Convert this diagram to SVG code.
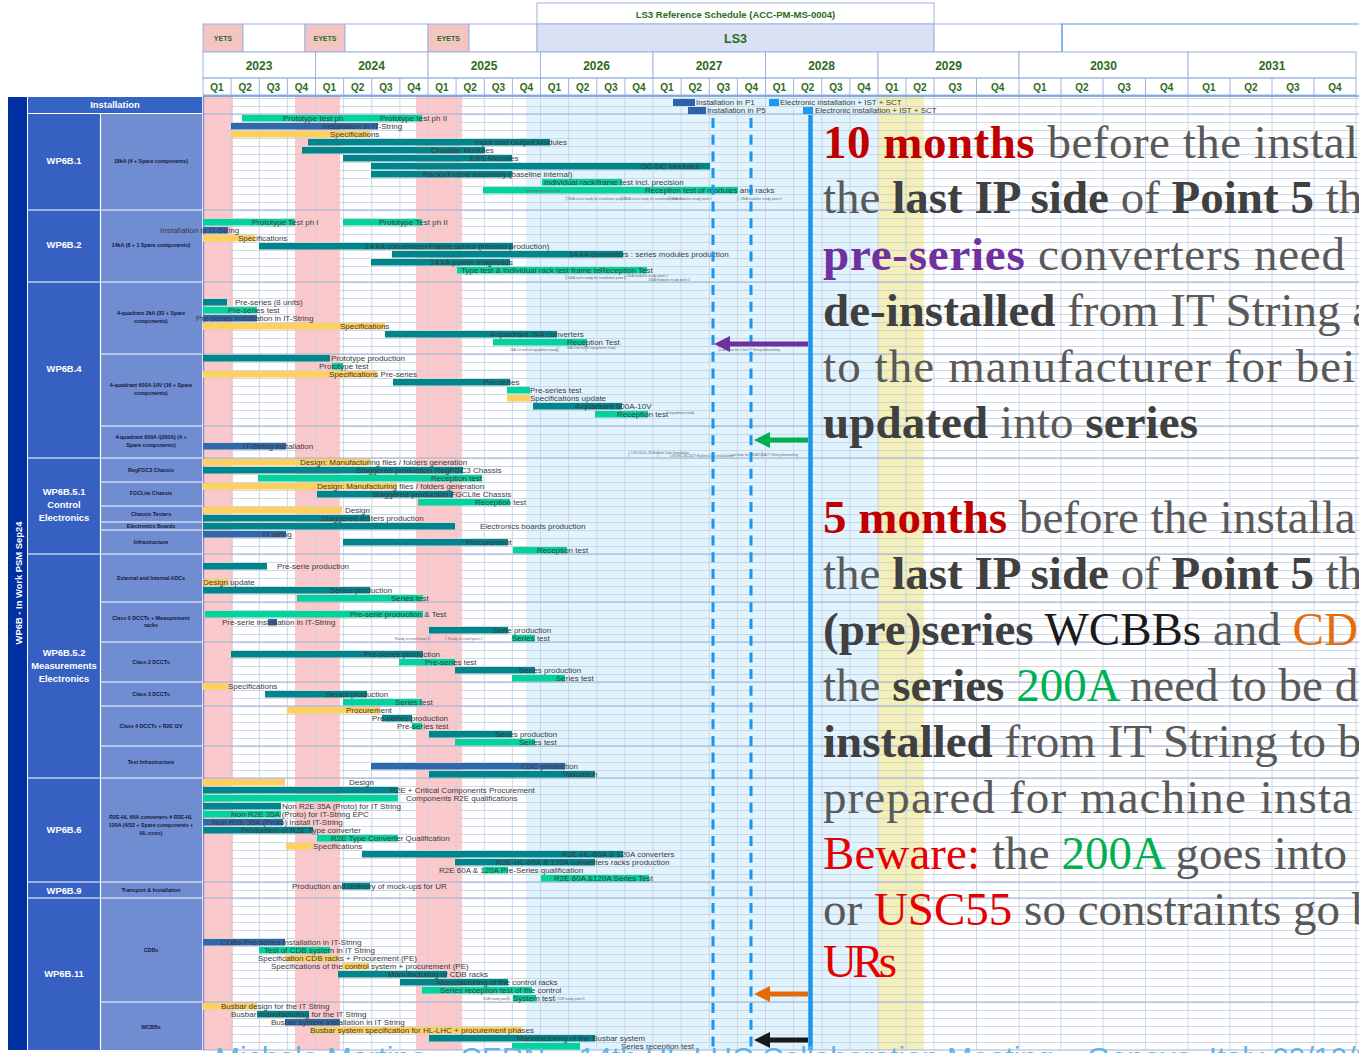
<svg xmlns="http://www.w3.org/2000/svg" width="1359" height="1053" viewBox="0 0 1359 1053">
<defs>
<style>
.hd{fill:#ffffff;stroke:#9db4e2;stroke-width:1}
.ht{font-family:"Liberation Sans",Arial,sans-serif;font-weight:bold;fill:#2c6b1c;text-anchor:middle}
.t{fill:#00858a}
.g{fill:#00d39b}
.b{fill:#2f69a8}
.y{fill:#ffd05c}
.lb{font-family:"Liberation Sans",Arial,sans-serif;font-size:8px;fill:#3b3b3b}
.tiny{font-family:"Liberation Sans",Arial,sans-serif;font-size:3.4px;fill:#6a6a6a}
.tick{stroke:#9a9a9a;stroke-width:0.6}
.wp{font-family:"Liberation Sans",Arial,sans-serif;font-weight:bold;font-size:9.4px;fill:#ffffff;text-anchor:middle}
.sub{font-family:"Liberation Sans",Arial,sans-serif;font-weight:bold;font-size:5.3px;fill:#15183a;text-anchor:middle}
.wpc{fill:#3661c2}
.sbc{fill:#6f8dd0}
.sep{stroke:#ffffff;stroke-width:1.2}
.sec{stroke:#9cb2da;stroke-width:1}
.note{font-family:"Liberation Serif","Times New Roman",serif;font-size:47px;fill:#595959}
.bd{font-weight:bold;fill:#404040}
.red{fill:#c00000}
.bred{fill:#e60000}
.pur{fill:#7030a0}
.grn{fill:#00b050}
.org{fill:#e46c0a}
.blk{fill:#1a1a1a}
.arr{stroke-width:5;fill:none}
.dash{stroke:#1a96ee;stroke-width:3;stroke-dasharray:10 6.7;fill:none}
</style>
<pattern id="rowlines" x="0" y="98" width="16" height="8" patternUnits="userSpaceOnUse">
<rect x="0" y="0" width="16" height="0.9" fill="#c8d4e6"/>
</pattern>
<marker id="hPur" viewBox="0 0 10 10" refX="0" refY="5" markerWidth="3.4" markerHeight="3.2" orient="auto"><path d="M0,0 L10,5 L0,10 z" fill="#7030a0"/></marker>
<marker id="hGrn" viewBox="0 0 10 10" refX="0" refY="5" markerWidth="3.4" markerHeight="3.2" orient="auto"><path d="M0,0 L10,5 L0,10 z" fill="#00b050"/></marker>
<marker id="hOrg" viewBox="0 0 10 10" refX="0" refY="5" markerWidth="3.4" markerHeight="3.2" orient="auto"><path d="M0,0 L10,5 L0,10 z" fill="#e36c09"/></marker>
<marker id="hBlk" viewBox="0 0 10 10" refX="0" refY="5" markerWidth="3.4" markerHeight="3.2" orient="auto"><path d="M0,0 L10,5 L0,10 z" fill="#1a1a1a"/></marker>
</defs>

<rect width="1359" height="1053" fill="#ffffff"/>

<!-- timeline header -->
<g id="header">
<rect class="hd" x="537" y="3" width="397" height="21"/>
<text class="ht" x="735.5" y="17.5" font-size="9.5">LS3 Reference Schedule (ACC-PM-MS-0004)</text>
<rect x="203" y="24" width="40" height="28" fill="#f3c5c2" stroke="#9db4e2"/>
<rect class="hd" x="243" y="24" width="62" height="28"/>
<rect x="305" y="24" width="40" height="28" fill="#f3c5c2" stroke="#9db4e2"/>
<rect class="hd" x="345" y="24" width="83" height="28"/>
<rect x="428" y="24" width="41" height="28" fill="#f3c5c2" stroke="#9db4e2"/>
<rect class="hd" x="469" y="24" width="68" height="28"/>
<rect x="537" y="24" width="397" height="28" fill="#dae1f4" stroke="#9db4e2"/>
<rect class="hd" x="934" y="24" width="128" height="28"/>
<path d="M1062 52 V24 H1359" fill="none" stroke="#5b9ce0" stroke-width="1.2"/>
<text class="ht" x="223" y="41" font-size="7">YETS</text>
<text class="ht" x="325" y="41" font-size="7">EYETS</text>
<text class="ht" x="448.5" y="41" font-size="7">EYETS</text>
<text class="ht" x="735.5" y="43" font-size="12.5">LS3</text>
<!-- years -->
<rect class="hd" x="203" y="52" width="112.5" height="26"/>
<rect class="hd" x="315.5" y="52" width="112.5" height="26"/>
<rect class="hd" x="428" y="52" width="112.5" height="26"/>
<rect class="hd" x="540.5" y="52" width="112.5" height="26"/>
<rect class="hd" x="653" y="52" width="112.5" height="26"/>
<rect class="hd" x="765.5" y="52" width="112.5" height="26"/>
<rect class="hd" x="878" y="52" width="141" height="26"/>
<rect class="hd" x="1019" y="52" width="169" height="26"/>
<rect class="hd" x="1188" y="52" width="168" height="26"/>
<text class="ht" font-size="12" y="70"><tspan x="259">2023</tspan><tspan x="371.5">2024</tspan><tspan x="484">2025</tspan><tspan x="596.5">2026</tspan><tspan x="709">2027</tspan><tspan x="821.5">2028</tspan><tspan x="948.5">2029</tspan><tspan x="1103.5">2030</tspan><tspan x="1272">2031</tspan></text>
<!-- quarters -->
<path fill="none" stroke="#9db4e2" d="M203 78 H1356 M203 95 H1356 M203 78 V95 M231.1 78 V95 M259.3 78 V95 M287.4 78 V95 M315.5 78 V95 M343.6 78 V95 M371.8 78 V95 M399.9 78 V95 M428 78 V95 M456.1 78 V95 M484.3 78 V95 M512.4 78 V95 M540.5 78 V95 M568.6 78 V95 M596.8 78 V95 M624.9 78 V95 M653 78 V95 M681.1 78 V95 M709.3 78 V95 M737.4 78 V95 M765.5 78 V95 M793.6 78 V95 M821.8 78 V95 M849.9 78 V95 M878 78 V95 M906 78 V95 M934 78 V95 M976.5 78 V95 M1019 78 V95 M1061 78 V95 M1103 78 V95 M1145.5 78 V95 M1188 78 V95 M1230 78 V95 M1272 78 V95 M1314 78 V95 M1356 78 V95"/>
<text class="ht" font-size="10" y="91"><tspan x="217">Q1</tspan><tspan x="245.2">Q2</tspan><tspan x="273.3">Q3</tspan><tspan x="301.4">Q4</tspan><tspan x="329.5">Q1</tspan><tspan x="357.7">Q2</tspan><tspan x="385.8">Q3</tspan><tspan x="414">Q4</tspan><tspan x="442">Q1</tspan><tspan x="470.2">Q2</tspan><tspan x="498.3">Q3</tspan><tspan x="526.4">Q4</tspan><tspan x="554.5">Q1</tspan><tspan x="582.7">Q2</tspan><tspan x="610.8">Q3</tspan><tspan x="639">Q4</tspan><tspan x="667">Q1</tspan><tspan x="695.2">Q2</tspan><tspan x="723.3">Q3</tspan><tspan x="751.4">Q4</tspan><tspan x="779.5">Q1</tspan><tspan x="807.7">Q2</tspan><tspan x="835.8">Q3</tspan><tspan x="864">Q4</tspan><tspan x="892">Q1</tspan><tspan x="920">Q2</tspan><tspan x="955.2">Q3</tspan><tspan x="997.7">Q4</tspan><tspan x="1040">Q1</tspan><tspan x="1082">Q2</tspan><tspan x="1124.2">Q3</tspan><tspan x="1166.7">Q4</tspan><tspan x="1209">Q1</tspan><tspan x="1251">Q2</tspan><tspan x="1293">Q3</tspan><tspan x="1335">Q4</tspan></text>
</g>

<!-- chart background: shutdown periods, LS3 band, grid -->
<g id="chart-grid">
<rect x="203" y="96" width="1156" height="954" fill="#ffffff"/>
<rect x="203" y="96" width="30" height="954" fill="#ffc7c7"/>
<rect x="295" y="96" width="45" height="954" fill="#ffc7c7"/>
<rect x="416" y="96" width="46" height="954" fill="#ffc7c7"/>
<rect x="526" y="96" width="352" height="954" fill="#e1f3fc"/>
<rect x="878" y="96" width="46" height="954" fill="#f3efb6"/>
<rect x="203" y="96" width="1156" height="954" fill="url(#rowlines)"/>
<path fill="none" stroke="#c6d3e6" stroke-width="0.9" d="M231.1 96 V1050 M259.3 96 V1050 M287.4 96 V1050 M315.5 96 V1050 M343.6 96 V1050 M371.8 96 V1050 M399.9 96 V1050 M428 96 V1050 M456.1 96 V1050 M484.3 96 V1050 M512.4 96 V1050 M540.5 96 V1050 M568.6 96 V1050 M596.8 96 V1050 M624.9 96 V1050 M653 96 V1050 M681.1 96 V1050 M709.3 96 V1050 M737.4 96 V1050 M765.5 96 V1050 M793.6 96 V1050 M821.8 96 V1050 M849.9 96 V1050 M878 96 V1050 M906 96 V1050 M934 96 V1050 M976.5 96 V1050 M1019 96 V1050 M1061 96 V1050 M1103 96 V1050 M1145.5 96 V1050 M1188 96 V1050 M1230 96 V1050 M1272 96 V1050 M1314 96 V1050 M1356 96 V1050"/>
<path class="sec" d="M203 114 H1359 M203 210 H1359 M203 282 H1359 M203 354 H1359 M203 426 H1359 M203 458 H1359 M203 554 H1359 M203 602 H1359 M203 642 H1359 M203 682 H1359 M203 706 H1359 M203 746 H1359 M203 778 H1359 M203 882 H1359 M203 898 H1359 M203 1002 H1359 M203 1050 H1359"/>
<path d="M203 96 H1359" stroke="#6f93d8" stroke-width="1.5"/>
<path d="M203.5 96 V1050" stroke="#8a8ad8" stroke-width="1.5"/>
</g>

<!-- work package labels -->
<g id="wp-panel">
<rect x="8" y="97" width="19" height="953" fill="#0030a2"/>
<text class="wp" font-size="12" transform="rotate(-90 18 583)" x="18" y="587">WP6B - In Work PSM Sep24</text>
<rect x="28" y="97" width="174" height="16" fill="#3664c4"/>
<text class="wp" x="115" y="108" font-size="8.6">Installation</text>
<g id="wp6b1"><rect class="wpc" x="28" y="114" width="72" height="96"/><rect class="sbc" x="101" y="114" width="101" height="96"/><text class="wp" x="64" y="164">WP6B.1</text><text class="sub" x="151" y="163">18kA (4 + Spare components)</text></g>
<g id="wp6b2"><rect class="wpc" x="28" y="210" width="72" height="72"/><rect class="sbc" x="101" y="210" width="101" height="72"/><text class="wp" x="64" y="248">WP6B.2</text><text class="sub" x="151" y="247">14kA (8 + 1 Spare components)</text></g>
<g id="wp6b4"><rect class="wpc" x="28" y="282" width="72" height="176"/><rect class="sbc" x="101" y="282" width="101" height="176"/><text class="wp" x="64" y="372">WP6B.4</text>
<text class="sub" x="151" y="315">4-quadrant 2kA (32 + Spare</text><text class="sub" x="151" y="323">components)</text>
<text class="sub" x="151" y="387">4-quadrant 600A-10V (16 + Spare</text><text class="sub" x="151" y="395">components)</text>
<text class="sub" x="151" y="439">4-quadrant 600A /(200A) (4 +</text><text class="sub" x="151" y="447">Spare components)</text></g>
<g id="wp6b51"><rect class="wpc" x="28" y="458" width="72" height="96"/><rect class="sbc" x="101" y="458" width="101" height="96"/>
<text class="wp" x="64" y="495">WP6B.5.1</text><text class="wp" x="64" y="508">Control</text><text class="wp" x="64" y="521">Electronics</text>
<text class="sub" x="151" y="472">RegFGC3 Chassis</text><text class="sub" x="151" y="495">FGCLite Chassis</text><text class="sub" x="151" y="516">Chassis Testers</text><text class="sub" x="151" y="528">Electronics Boards</text><text class="sub" x="151" y="544">Infrastructure</text></g>
<g id="wp6b52"><rect class="wpc" x="28" y="554" width="72" height="224"/><rect class="sbc" x="101" y="554" width="101" height="224"/>
<text class="wp" x="64" y="656">WP6B.5.2</text><text class="wp" x="64" y="669">Measurements</text><text class="wp" x="64" y="682">Electronics</text>
<text class="sub" x="151" y="580">External and Internal ADCs</text>
<text class="sub" x="151" y="620">Class 0 DCCTs + Measurement</text><text class="sub" x="151" y="627">racks</text>
<text class="sub" x="151" y="664">Class 2 DCCTs</text><text class="sub" x="151" y="696">Class 3 DCCTs</text><text class="sub" x="151" y="728">Class 4 DCCTs + R2E I2V</text><text class="sub" x="151" y="764">Test Infrastructure</text></g>
<g id="wp6b6"><rect class="wpc" x="28" y="778" width="72" height="104"/><rect class="sbc" x="101" y="778" width="101" height="104"/><text class="wp" x="64" y="833">WP6B.6</text>
<text class="sub" x="151" y="819">R2E-HL 60A converters # R2E-HL</text><text class="sub" x="151" y="827">120A (4/32 + Spare components +</text><text class="sub" x="151" y="835">HL-cons)</text></g>
<g id="wp6b9"><rect class="wpc" x="28" y="882" width="72" height="16"/><rect class="sbc" x="101" y="882" width="101" height="16"/><text class="wp" x="64" y="893.5">WP6B.9</text><text class="sub" x="151" y="892">Transport &amp; Installation</text></g>
<g id="wp6b11"><rect class="wpc" x="28" y="898" width="72" height="152"/><rect class="sbc" x="101" y="898" width="101" height="152"/><text class="wp" x="64" y="977">WP6B.11</text><text class="sub" x="151" y="952">CDBs</text><text class="sub" x="151" y="1029">WCBBs</text></g>
<path class="sep" d="M28 113.5 H202 M28 210 H202 M28 282 H202 M101 354 H202 M101 426 H202 M28 458 H202 M101 482 H202 M101 506 H202 M101 522 H202 M101 530 H202 M28 554 H202 M101 602 H202 M101 642 H202 M101 682 H202 M101 706 H202 M101 746 H202 M28 778 H202 M28 882 H202 M28 898 H202 M101 1002 H202 M100.5 114 V1050"/>
</g>

<!-- installation milestones -->
<g id="installation">
<rect x="673" y="99" width="22" height="7" fill="#2e63a8"/><text class="lb" x="696" y="105" font-size="7">Installation in P1</text>
<rect x="688" y="107" width="18" height="7" fill="#2e63a8"/><text class="lb" x="707" y="113" font-size="7">Installation in P5</text>
<rect x="769" y="99" width="10" height="7" fill="#1a9af0"/><text class="lb" x="780" y="105" font-size="6.8">Electronic installation + IST + SCT</text>
<rect x="803" y="107" width="10" height="7" fill="#1a9af0"/><text class="lb" x="815" y="113" font-size="6.8">Electronic installation + IST + SCT</text>
</g>

<g id="wp6b1-tasks">
<rect class="g" x="242" y="115" width="101" height="6.5"/><rect class="g" x="343" y="115" width="79" height="6.5"/>
<text class="lb" x="283" y="120.8">Prototype test ph</text><text class="lb" x="380" y="120.8">Prototype test ph II</text>
<rect class="b" x="231" y="123" width="147" height="6.5"/><text class="lb" x="323" y="128.8">Installation in IT-String</text>
<rect class="y" x="231" y="131" width="139" height="6.5"/><text class="lb" x="330" y="136.8">Specifications</text>
<rect class="t" x="308" y="139" width="242" height="6.5"/><text class="lb" x="475" y="144.8">Input and Output Modules</text>
<rect class="t" x="302" y="147" width="183" height="6.5"/><text class="lb" x="431" y="152.8">Crowbar Modules</text>
<rect class="t" x="343" y="155" width="169" height="6.5"/><text class="lb" x="470" y="160.8">ESS Modules</text>
<rect class="t" x="371" y="163" width="339" height="6.5"/><text class="lb" x="641" y="168.8">DC-DC Modules</text>
<rect class="t" x="371" y="171" width="141" height="6.5"/><text class="lb" x="423" y="176.8">Racks/Frame assembly (baseline internal)</text>
<rect class="g" x="542" y="179" width="80" height="6.5"/><text class="lb" x="544" y="184.8">Individual rack/frame test incl. precision</text>
<rect class="g" x="483" y="187" width="255" height="6.5"/><text class="lb" x="645" y="192.8">Reception test of modules and racks</text>
<text class="tiny" x="525" y="191.5">Type test incl. precision</text>
<path class="tick" d="M566 196 V201 M622 196 V201 M669 196 V201 M738 196 V201"/>
<text class="tiny" x="567" y="200">18kA racks ready for installation point 1</text>
<text class="tiny" x="623" y="200">18kA racks ready for installation point 5</text>
<text class="tiny" x="670" y="200">18kA modules ready point 1</text>
<text class="tiny" x="740" y="200">18kA modules ready point 5</text>
</g>

<g id="wp6b2-tasks">
<rect class="g" x="203" y="219" width="92" height="6.5"/><rect class="g" x="343" y="219" width="79" height="6.5"/>
<text class="lb" x="252" y="224.8">Prototype Test ph I</text><text class="lb" x="379" y="224.8">Prototype Test ph II</text>
<rect class="b" x="203" y="227" width="25" height="6.5"/><text class="lb" x="160" y="232.8">Installation in IT-String</text>
<rect class="y" x="203" y="235" width="52" height="6.5"/><text class="lb" x="238" y="240.8">Specifications</text>
<rect class="t" x="259" y="243" width="254" height="6.5"/><text class="lb" x="365" y="248.8">14 kA converters+Frame series (internal production)</text>
<rect class="t" x="392" y="251" width="231" height="6.5"/><text class="lb" x="569" y="256.8">14 kA converters : series modules production</text>
<rect class="t" x="371" y="259" width="139" height="6.5"/><text class="lb" x="430" y="264.8">14 kA power magnetics</text>
<rect class="g" x="457" y="267" width="190" height="6.5"/><text class="lb" x="461" y="272.8">Type test &amp; individual rack test frame te</text><text class="lb" x="600" y="272.8">Reception Test</text>
<path class="tick" d="M566 274 V280 M625 274 V280"/>
<text class="tiny" x="567" y="278.5">14kA racks ready for installation point 1</text>
<text class="tiny" x="626" y="276.5">14kA modules ready point 1</text>
<text class="tiny" x="648" y="281">14kA modules ready point 5</text>
</g>

<g id="wp6b4-tasks">
<rect class="t" x="203" y="299" width="24" height="6.5"/><text class="lb" x="235" y="304.8">Pre-series (8 units)</text>
<rect class="g" x="203" y="307" width="54" height="6.5"/><text class="lb" x="228" y="312.8">Pre-series test</text>
<rect class="b" x="203" y="315" width="54" height="6.5"/><text class="lb" x="196" y="320.8">Pre-series installation in IT-String</text>
<rect class="y" x="203" y="323" width="182" height="6.5"/><text class="lb" x="340" y="328.8">Specifications</text>
<rect class="t" x="385" y="331" width="172" height="6.5"/><text class="lb" x="490" y="336.8">4-quadrant 2kA converters</text>
<rect class="g" x="493" y="339" width="94" height="6.5"/><text class="lb" x="567" y="344.8">Reception Test</text>
<path class="tick" d="M558 346 V352 M586 346 V352 M719 346 V352"/>
<text class="tiny" x="510" y="351">2kA 1st half of equipment ready</text>
<text class="tiny" x="567" y="349">2kA 2nd half of equipment ready</text>
<text class="tiny" x="720" y="351">Last date for 2 last IT String dismantling</text>
<rect class="t" x="203" y="355" width="127" height="6.5"/><text class="lb" x="331" y="360.8">Prototype production</text>
<rect class="g" x="332" y="363" width="11" height="6.5"/><text class="lb" x="319" y="368.8">Prototype test</text>
<rect class="y" x="203" y="371" width="174" height="6.5"/><text class="lb" x="329" y="376.8">Specifications Pre-series</text>
<rect class="t" x="393" y="379" width="117" height="6.5"/><text class="lb" x="483" y="384.8">Pre-series</text>
<rect class="g" x="507" y="387" width="23" height="6.5"/><text class="lb" x="530" y="392.8">Pre-series test</text>
<rect class="y" x="507" y="395" width="23" height="6.5"/><text class="lb" x="530" y="400.8">Specifications update</text>
<rect class="t" x="533" y="403" width="89" height="6.5"/><text class="lb" x="575" y="408.8">4-quadrant 600A-10V</text>
<rect class="g" x="595" y="411" width="53" height="6.5"/><text class="lb" x="617" y="416.8">Reception test</text>
<path class="tick" d="M667 410 V416"/>
<text class="tiny" x="669" y="414">equipment ready</text>
<rect class="b" x="203" y="443" width="83" height="6.5"/><text class="lb" x="243" y="448.8">IT-String installation</text>
<path class="tick" d="M629 451 V457 M658 451 V457 M762 451 V457"/>
<text class="tiny" x="631" y="453.5">LS3-04-0L-28 Earliest Date Installation</text>
<text class="tiny" x="670" y="457">LS3-ED-1B-2027 Earliest Date Installation</text>
<text class="tiny" x="730" y="456">Last date for 200A/120A IT String dismantling</text>
</g>

<g id="wp6b51-tasks">
<rect class="y" x="203" y="459" width="167" height="6.5"/><text class="lb" x="300" y="464.8">Design: Manufacturing files / folders generation</text>
<rect class="t" x="203" y="467" width="260" height="6.5"/><text class="lb" x="356" y="472.8">Staggered production RegFGC3 Chassis</text>
<rect class="g" x="258" y="475" width="224" height="6.5"/><text class="lb" x="431" y="480.8">Reception test</text>
<rect class="y" x="203" y="483" width="194" height="6.5"/><text class="lb" x="317" y="488.8">Design: Manufacturing files / folders generation</text>
<rect class="t" x="317" y="491" width="136" height="6.5"/><text class="lb" x="372" y="496.8">Staggered production FGCLite Chassis</text>
<rect class="g" x="418" y="499" width="92" height="6.5"/><text class="lb" x="475" y="504.8">Reception test</text>
<rect class="y" x="203" y="507" width="139" height="6.5"/><text class="lb" x="345" y="512.8">Design</text>
<rect class="t" x="203" y="515" width="167" height="6.5"/><text class="lb" x="321" y="520.8">Staggered testers production</text>
<rect class="t" x="203" y="523" width="252" height="6.5"/><text class="lb" x="480" y="528.8">Electronics boards production</text>
<rect class="b" x="203" y="531" width="83" height="6.5"/><text class="lb" x="263" y="536.8">IT string</text>
<rect class="t" x="343" y="539" width="165" height="6.5"/><text class="lb" x="466" y="544.8">Procurement</text>
<rect class="g" x="513" y="547" width="54" height="6.5"/><text class="lb" x="537" y="552.8">Reception test</text>
</g>

<g id="wp6b52-tasks">
<rect class="t" x="203" y="563" width="64" height="6.5"/><text class="lb" x="277" y="568.8">Pre-serie production</text>
<rect class="y" x="203" y="579" width="25" height="6.5"/><text class="lb" x="203" y="584.8">Design update</text>
<rect class="t" x="203" y="587" width="167" height="6.5"/><text class="lb" x="330" y="592.8">Series production</text>
<rect class="g" x="297" y="595" width="126" height="6.5"/><text class="lb" x="391" y="600.8">Series test</text>
<rect class="g" x="205" y="611" width="218" height="6.5"/><text class="lb" x="350" y="616.8">Pre-serie production &amp; Test</text>
<rect class="b" x="268" y="619" width="9" height="6.5"/><text class="lb" x="222" y="624.8">Pre-serie installation in IT-String</text>
<rect class="t" x="429" y="627" width="79" height="6.5"/><text class="lb" x="493" y="632.8">Serie production</text>
<rect class="g" x="512" y="635" width="23" height="6.5"/><text class="lb" x="512" y="640.8">Series test</text>
<path class="tick" d="M430 635 V641 M446 635 V641"/>
<text class="tiny" x="395" y="639.5">Ready to install point 1</text>
<text class="tiny" x="448" y="639.5">Ready to install point 5</text>
<rect class="t" x="231" y="651" width="192" height="6.5"/><text class="lb" x="364" y="656.8">Pre-series production</text>
<rect class="g" x="399" y="659" width="56" height="6.5"/><text class="lb" x="425" y="664.8">Pre-series test</text>
<rect class="t" x="455" y="667" width="80" height="6.5"/><text class="lb" x="519" y="672.8">Series production</text>
<rect class="g" x="512" y="675" width="53" height="6.5"/><text class="lb" x="556" y="680.8">Series test</text>
<rect class="y" x="203" y="683" width="25" height="6.5"/><text class="lb" x="228" y="688.8">Specifications</text>
<rect class="t" x="265" y="691" width="102" height="6.5"/><text class="lb" x="326" y="696.8">Series production</text>
<rect class="g" x="343" y="699" width="79" height="6.5"/><text class="lb" x="395" y="704.8">Series test</text>
<rect class="y" x="287" y="707" width="93" height="6.5"/><text class="lb" x="346" y="712.8">Procurement</text>
<rect class="t" x="382" y="715" width="30" height="6.5"/><text class="lb" x="372" y="720.8">Pre-series production</text>
<rect class="g" x="412" y="723" width="10" height="6.5"/><text class="lb" x="397" y="728.8">Pre-series test</text>
<rect class="t" x="429" y="731" width="83" height="6.5"/><text class="lb" x="495" y="736.8">Series production</text>
<rect class="g" x="455" y="739" width="80" height="6.5"/><text class="lb" x="519" y="744.8">Series test</text>
<rect class="b" x="371" y="763" width="194" height="6.5"/><text class="lb" x="521" y="768.8">CDC production</text>
<rect class="t" x="429" y="771" width="166" height="6.5"/><text class="lb" x="563" y="776.8">Validation</text>
</g>

<g id="wp6b6-tasks">
<rect class="y" x="203" y="779" width="82" height="6.5"/><text class="lb" x="349" y="784.8">Design</text>
<rect class="t" x="203" y="787" width="195" height="6.5"/><text class="lb" x="390" y="792.8">R2E + Critical Components Procurement</text>
<rect class="g" x="203" y="795" width="195" height="6.5"/><text class="lb" x="406" y="800.8">Components R2E qualifications</text>
<rect class="t" x="203" y="803" width="78" height="6.5"/><text class="lb" x="282" y="808.8">Non R2E 35A (Proto) for IT String</text>
<rect class="g" x="203" y="811" width="78" height="6.5"/><text class="lb" x="231" y="816.8">Non R2E 35A (Proto) for IT-String  EPC</text>
<rect class="b" x="203" y="819" width="80" height="6.5"/><text class="lb" x="212" y="824.8">Non R2E 35A (Proto) Install IT-String</text>
<rect class="t" x="203" y="827" width="110" height="6.5"/><text class="lb" x="241" y="832.8">Production of R2E Type converter</text>
<rect class="g" x="317" y="835" width="81" height="6.5"/><text class="lb" x="331" y="840.8">R2E Type Converter Qualification</text>
<rect class="y" x="286" y="843" width="27" height="6.5"/><text class="lb" x="313" y="848.8">Specifications</text>
<rect class="t" x="362" y="851" width="261" height="6.5"/><text class="lb" x="562" y="856.8">R2E-HL-60A &amp; 120A converters</text>
<rect class="t" x="455" y="859" width="140" height="6.5"/><text class="lb" x="496" y="864.8">R2E-HL-60A &amp; 120A converters racks production</text>
<rect class="g" x="483" y="867" width="25" height="6.5"/><text class="lb" x="439" y="872.8">R2E 60A &amp; 120A Pre-Series qualification</text>
<rect class="g" x="541" y="875" width="108" height="6.5"/><text class="lb" x="554" y="880.8">R2E 60A &amp;120A Series Test</text>
</g>

<g id="wp6b9-tasks">
<rect class="t" x="342" y="883" width="28" height="6.5"/><text class="lb" x="292" y="888.8">Production and delivery of mock-ups for UR</text>
</g>

<g id="wp6b11-tasks">
<rect class="b" x="203" y="939" width="82" height="6.5"/><text class="lb" x="221" y="944.8">CDBs Pre-series installation in IT-String</text>
<rect class="g" x="259" y="947" width="71" height="6.5"/><text class="lb" x="264" y="952.8">Test of CDB system in IT String</text>
<rect class="y" x="285" y="955" width="53" height="6.5"/><text class="lb" x="258" y="960.8">Specification CDB racks + Procurement (PE)</text>
<rect class="y" x="342" y="963" width="27" height="6.5"/><text class="lb" x="271" y="968.8">Specifications of the control system + procurement (PE)</text>
<rect class="t" x="338" y="971" width="109" height="6.5"/><text class="lb" x="388" y="976.8">Manufacturing of CDB racks</text>
<rect class="t" x="400" y="979" width="108" height="6.5"/><text class="lb" x="437" y="984.8">Manufacturing of the control racks</text>
<rect class="g" x="422" y="987" width="110" height="6.5"/><text class="lb" x="440" y="992.8">Series reception test of the control</text>
<rect class="g" x="513" y="995" width="23" height="6.5"/><text class="lb" x="513" y="1000.8">System test</text>
<path class="tick" d="M508 995 V1001 M555 995 V1001"/>
<text class="tiny" x="483" y="999.5">CDB ready point 1</text>
<text class="tiny" x="557" y="999.5">CDB ready point 5</text>
<rect class="y" x="203" y="1003" width="54" height="6.5"/><text class="lb" x="221" y="1008.8">Busbar design for the IT String</text>
<rect class="t" x="257" y="1011" width="52" height="6.5"/><text class="lb" x="231" y="1016.8">Busbar manufacturing for the IT String</text>
<rect class="b" x="285" y="1019" width="55" height="6.5"/><text class="lb" x="271" y="1024.8">Busbar system installation in IT String</text>
<rect class="y" x="311" y="1027" width="211" height="6.5"/><text class="lb" x="310" y="1032.8">Busbar system specification for HL-LHC + procurement phases</text>
<rect class="t" x="429" y="1035" width="166" height="6.5"/><text class="lb" x="517" y="1040.8">Manufacturing of the Busbar system</text>
<rect class="g" x="512" y="1043" width="68" height="6.5"/><text class="lb" x="621" y="1048.8">Series reception test</text>
</g>

<!-- installation deadlines and arrows -->
<g id="connectors">
<path class="dash" d="M713 118 V1050"/>
<path class="dash" d="M751 118 V1050"/>
<path d="M810.5 115 V1050" stroke="#1a96ee" stroke-width="4.5"/>
<path class="arr" stroke="#7030a0" d="M808 344 H730" marker-end="url(#hPur)"/>
<path class="arr" stroke="#00b050" d="M808 440 H770" marker-end="url(#hGrn)"/>
<path class="arr" stroke="#e36c09" d="M808 994 H770" marker-end="url(#hOrg)"/>
<path class="arr" stroke="#1a1a1a" d="M808 1040 H770" marker-end="url(#hBlk)"/>
</g>

<!-- notes -->
<g id="notes" class="note">
<text x="823" y="158" letter-spacing="0.5"><tspan class="bd red">10 months</tspan> before the instal</text>
<text x="823" y="213">the <tspan class="bd">last IP side</tspan> of <tspan class="bd">Point 5</tspan> th</text>
<text x="823" y="270" textLength="522"><tspan class="bd pur">pre-series</tspan> converters need</text>
<text x="823" y="326"><tspan class="bd">de-installed</tspan> from IT String a</text>
<text x="823" y="382" letter-spacing="1.1">to the manufacturer for bei</text>
<text x="823" y="438" textLength="375"><tspan class="bd">updated</tspan> into <tspan class="bd">series</tspan></text>
<text x="823" y="533"><tspan class="bd red">5 months</tspan> before the installa</text>
<text x="823" y="589">the <tspan class="bd">last IP side</tspan> of <tspan class="bd">Point 5</tspan> the</text>
<text x="823" y="645"><tspan class="bd">(pre)series</tspan> <tspan class="blk">WCBBs</tspan> and <tspan class="org">CDB</tspan></text>
<text x="823" y="701">the <tspan class="bd">series</tspan> <tspan class="grn">200A</tspan> need to be d</text>
<text x="823" y="757"><tspan class="bd">installed</tspan> from IT String to b</text>
<text x="823" y="813" letter-spacing="1.1">prepared for machine insta</text>
<text x="823" y="869" textLength="524"><tspan class="bred">Beware:</tspan> the <tspan class="grn">200A</tspan> goes into</text>
<text x="823" y="925">or <tspan class="bred">USC55</tspan> so constraints go b</text>
<text x="823" y="977" textLength="74"><tspan class="bred">URs</tspan></text>
</g>

<text x="215" y="1068" font-family="Liberation Sans,Arial,sans-serif" font-size="30" fill="#62b4e6">Michele Martino – CERN – 14th HL-LHC Collaboration Meeting – Genova, Italy 09/10/2024</text>
</svg>
